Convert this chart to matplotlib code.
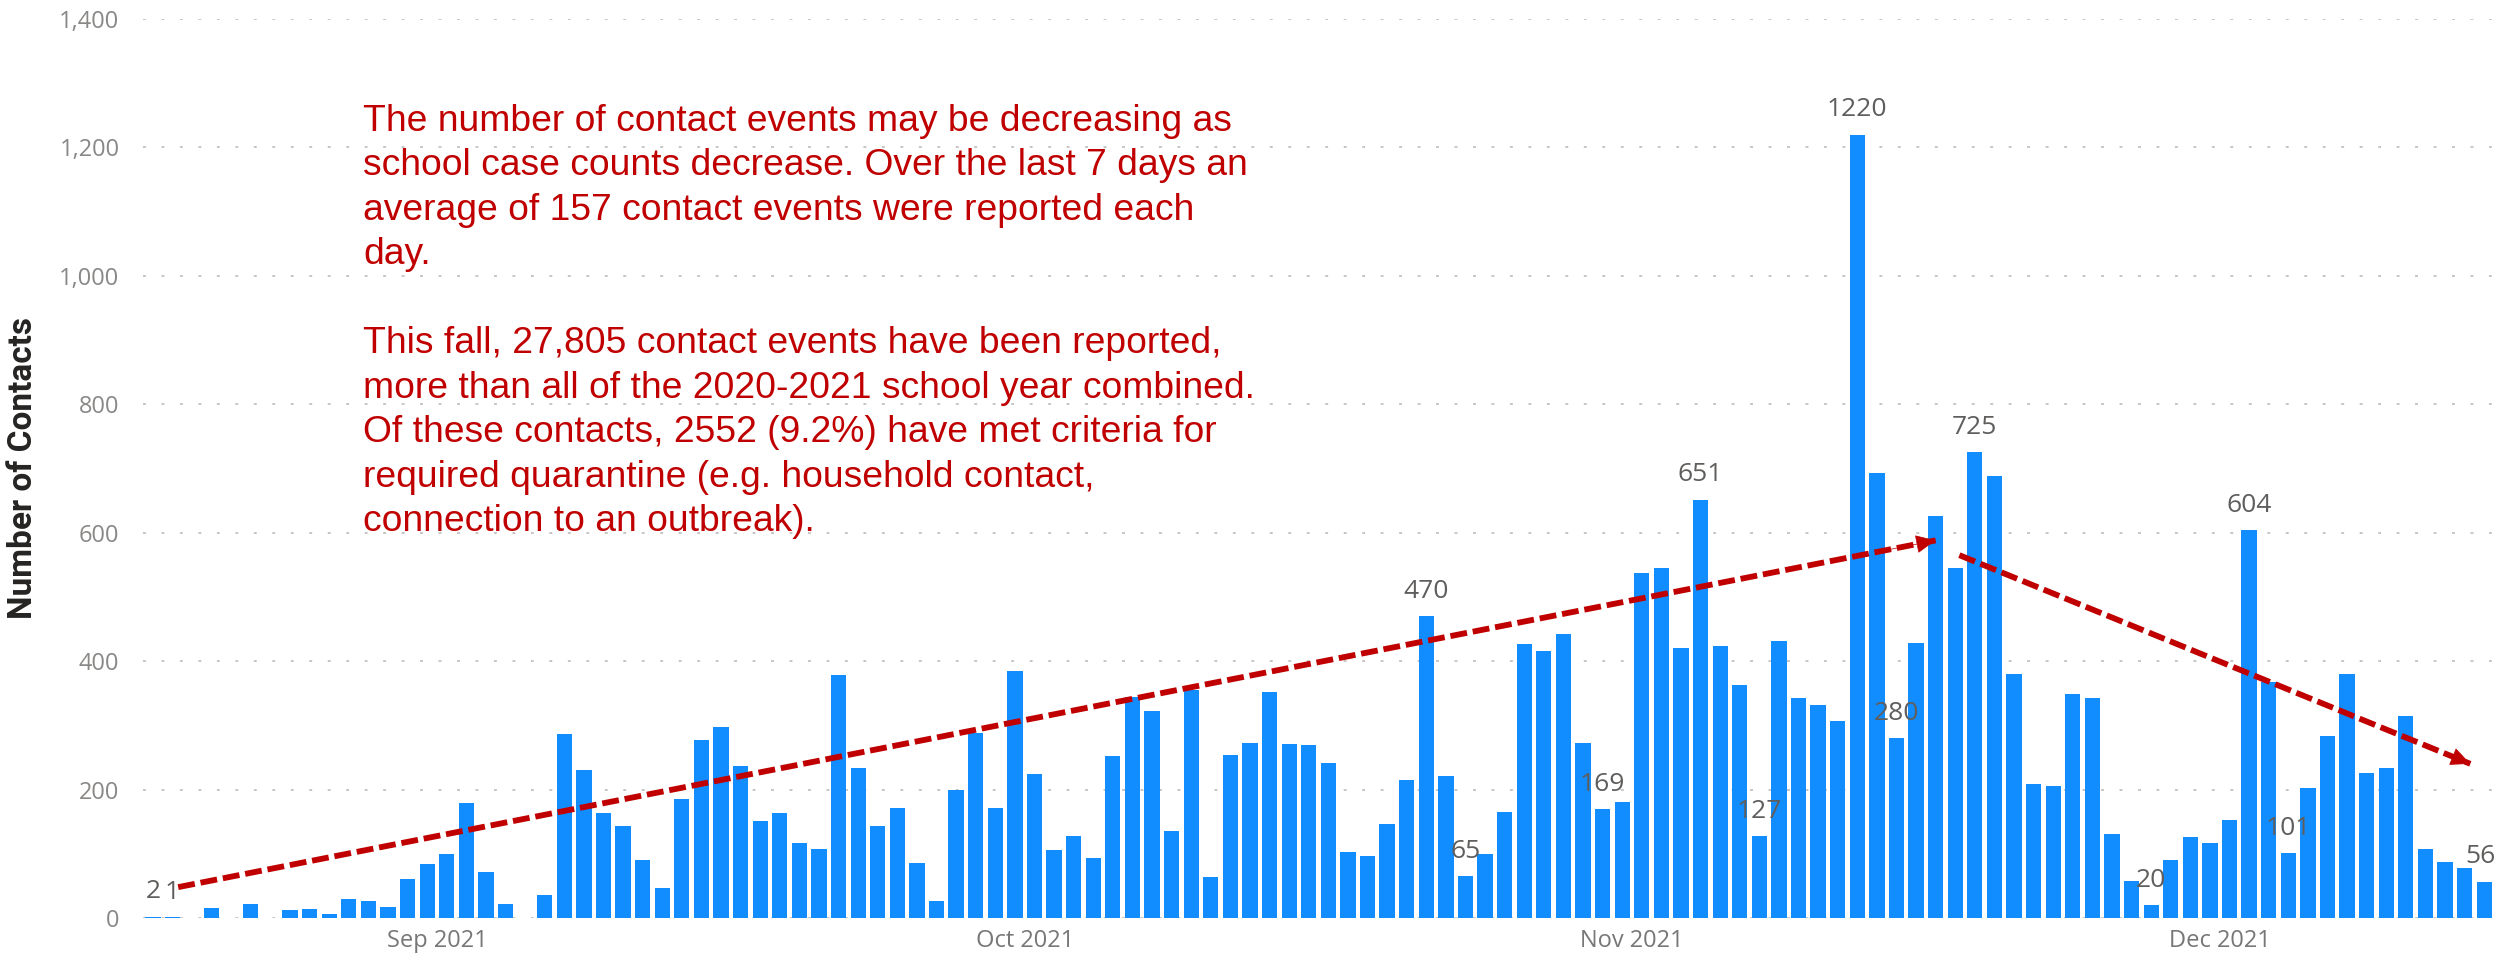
# Daily school contact events, fall 2021 (Power BI style bar chart)
import numpy as np
import pandas as pd
import matplotlib
matplotlib.use('Agg')
import matplotlib.pyplot as plt
import matplotlib.dates as mdates
from matplotlib.ticker import FuncFormatter

# data, one value per day starting 17 Aug 2021
start_day = '2021-08-17'
contacts = [
    2, 1, 0, 15, 0, 21, 0, 12, 14, 6, 30, 26, 17, 61, 84, 99, 179, 71, 22, 0,
    35, 287, 230, 164, 143, 90,
    46, 185, 277, 298, 236, 151, 163, 117, 108, 379, 233, 143, 171, 86, 26,
    200, 288, 171, 384, 224, 106, 128, 93, 252, 344, 322, 135, 355, 64, 254, 272,
    352, 271, 269, 242, 102, 96, 146, 215, 470, 221, 65, 100, 165, 427, 415,
    442, 273, 169, 181, 537, 545, 421, 651, 423, 363, 127, 431, 343, 332, 307,
    1220, 693, 280, 428, 626, 545, 725, 688, 380, 208, 205, 348, 342, 130, 57,
    20, 90, 126, 117, 152, 604, 367, 101, 202, 283, 380, 225, 234, 314, 107,
    87, 78, 56,
]
days = pd.date_range(start_day, periods=len(contacts), freq='D')

# days that carry a data label in the original
labelled_days = ['2021-08-17', '2021-08-18', '2021-10-21', '2021-10-23',
                 '2021-10-30', '2021-11-04', '2021-11-07', '2021-11-12',
                 '2021-11-14', '2021-11-18', '2021-11-27', '2021-12-02',
                 '2021-12-04', '2021-12-14']

month_ticks = ['2021-09-01', '2021-10-01', '2021-11-01', '2021-12-01']

# hand-drawn trend arrows
up_x = ['2021-08-18 07:00', '2021-11-16 00:00']
up_y = [48, 588]
down_x = ['2021-11-17 05:00', '2021-12-13 07:00']
down_y = [565, 240]

note = ("The number of contact events may be decreasing as\n"
        "school case counts decrease. Over the last 7 days an\n"
        "average of 157 contact events were reported each\n"
        "day.\n"
        "\n"
        "This fall, 27,805 contact events have been reported,\n"
        "more than all of the 2020-2021 school year combined.\n"
        "Of these contacts, 2552 (9.2%) have met criteria for\n"
        "required quarantine (e.g. household contact,\n"
        "connection to an outbreak).")

bar_color = '#118DFF'
red = '#C00000'
label_gray = '#605E5C'
tick_gray = '#8a8886'

fig = plt.figure(figsize=(24.97, 9.58), dpi=100)
ax = fig.add_axes([0.0573, 0.0418, 0.9415, 0.9384])

ax.bar(days, contacts, width=0.78, color=bar_color, zorder=2)

ax.set_xlim(days[0] - pd.Timedelta(hours=12), days[-1] + pd.Timedelta(hours=12))
ax.set_ylim(0, 1400)
ax.set_yticks(np.arange(0, 1401, 200))
ax.yaxis.set_major_formatter(FuncFormatter(lambda v, p: f'{int(v):,}'))
tick_pos = pd.to_datetime(month_ticks) - pd.Timedelta(hours=12)
ax.set_xticks(tick_pos)
ax.set_xticklabels([pd.Timestamp(m).strftime('%b %Y') for m in month_ticks])

ax.grid(axis='y', color='#c8c6c4', linestyle=(0, (1.5, 8)), linewidth=1.4, zorder=0)
ax.set_axisbelow(True)
for s in ax.spines.values():
    s.set_visible(False)
ax.tick_params(axis='y', length=0, pad=17, labelsize=17, labelcolor=tick_gray)
ax.tick_params(axis='x', length=0, pad=8, labelsize=17, labelcolor='#777777')
for t in ax.get_xticklabels() + ax.get_yticklabels():
    t.set_fontfamily('Open Sans')

# data labels
value_by_day = dict(zip(days, contacts))
for d in pd.to_datetime(labelled_days):
    v = value_by_day[d]
    ha = 'right' if d == days[-1] else 'center'
    xo = 8 if d == days[-1] else 0
    ax.annotate(str(v), (d, v), xytext=(xo, 9), textcoords='offset points',
                ha=ha, va='bottom', fontsize=19, color=label_gray,
                family='Open Sans', zorder=4)

# dashed trend arrows
def trend_arrow(xs, ys):
    xn = mdates.date2num(pd.to_datetime(xs))
    ax.plot(xn, ys, color=red, lw=4.2, dashes=(2.9, 1.0), zorder=5,
            solid_capstyle='butt')
    bx = xn[1] - 0.03 * (xn[1] - xn[0])
    by = ys[1] - 0.03 * (ys[1] - ys[0])
    ax.annotate('', xy=(xn[1], ys[1]), xytext=(bx, by),
                arrowprops=dict(arrowstyle='-|>,head_length=0.65,head_width=0.3',
                                color=red, lw=0.5, shrinkA=0, shrinkB=0,
                                mutation_scale=20),
                zorder=6)

trend_arrow(up_x, up_y)
trend_arrow(down_x, down_y)

fig.text(363 / 2497, 1 - 104 / 958, note, ha='left', va='top', fontsize=26.8,
         color=red, family='Liberation Sans', linespacing=1.35)

fig.text(23 / 2497, 1 - 468 / 958, 'Number of Contacts', rotation=90,
         ha='center', va='center', fontsize=24, color='#252423',
         family=['Liberation Sans Narrow', 'Roboto'], fontweight='bold')

fig.savefig('out.png', dpi=100)
